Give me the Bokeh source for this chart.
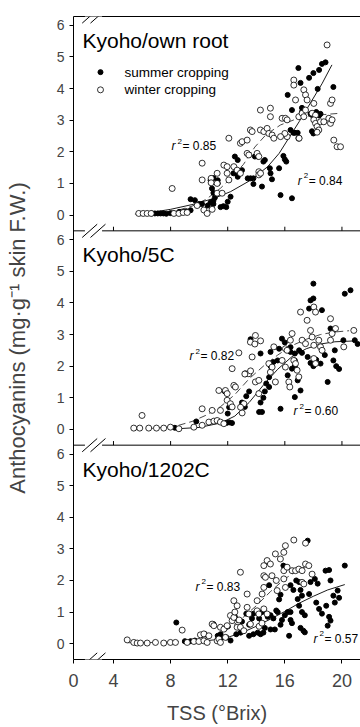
from bokeh.plotting import figure
from bokeh.models import Range1d, FixedTicker, Span, Arrow, LinearAxis
from bokeh.core.properties import value
from bokeh.embed import file_html
from bokeh.resources import INLINE

FONT = "Liberation Sans"

# ---------------- data ----------------
panel_names = ["Kyoho/own root", "Kyoho/5C", "Kyoho/1202C"]
series_names = ["summer cropping", "winter cropping"]

x_ticks = [1.2, 4, 8, 12, 16, 20]          # 1.2 = position of the broken-axis "0"
x_tick_labels = ["0", "4", "8", "12", "16", "20"]
y_ticks = [0, 1, 2, 3, 4, 5, 6]

# Kyoho / own root
own_summer_x = [6.7, 6.9, 7.1, 7.3, 7.5, 7.7, 8.0, 8.6, 8.9, 9.1, 9.4, 9.4, 9.7, 10.0, 10.2, 10.6, 10.8, 11.0,
                10.8, 11.0, 10.9, 11.0, 11.1, 11.0, 11.3, 11.3, 11.5, 11.7, 11.9, 12.0, 12.2, 12.4, 12.7, 12.5,
                12.7, 13.0, 12.7, 13.4, 13.6, 13.8, 13.8, 14.4, 14.1, 14.5, 14.95, 15.0, 15.1, 15.6, 15.9, 16.0,
                16.1, 15.7, 16.5, 16.7, 16.9, 18.0, 16.4, 16.6, 16.2, 16.5, 17.2, 17.2, 17.8, 18.0, 18.2, 18.4,
                18.5, 17.9, 16.95, 17.1, 17.7, 18.0, 18.4, 18.6, 18.85, 18.3, 19.4, 13.9, 14.6]
own_summer_y = [0.05, 0.05, 0.05, 0.05, 0.05, 0.04, 0.06, 0.10, 0.10, 0.12, 0.15, 0.50, 0.47, 0.35, 0.35, 0.30,
                0.40, 0.35, 1.10, 1.17, 0.84, 0.70, 0.55, 0.45, 1.00, 1.10, 0.25, 0.28, 0.25, 0.42, 0.58, 1.32,
                1.27, 1.85, 1.74, 1.42, 1.21, 1.16, 1.16, 1.16, 0.98, 0.90, 1.85, 1.69, 1.48, 1.32, 1.13, 1.48,
                1.87, 1.76, 1.69, 0.63, 0.53, 2.60, 2.60, 2.58, 2.69, 2.60, 3.80, 3.32, 3.39, 3.26, 3.20, 3.10,
                3.26, 3.15, 3.20, 2.65, 4.65, 4.18, 4.34, 4.49, 4.59, 4.78, 4.83, 3.99, 4.05, 1.85, 1.74]
own_winter_x = [5.77, 6.08, 6.36, 6.64, 8.11, 8.23, 8.58, 8.88, 9.16, 9.86, 10.21, 10.21, 10.33, 10.56, 10.84,
                10.91, 10.84, 11.26, 11.26, 11.26, 11.61, 11.73, 11.96, 11.96, 12.08, 12.08, 12.43, 12.66,
                12.89, 12.89, 13.01, 13.36, 13.59, 13.71, 13.36, 13.48, 14.18, 14.18, 14.06, 14.18, 14.29,
                14.99, 14.99, 14.29, 14.53, 14.76, 14.88, 15.11, 15.23, 15.81, 16.04, 16.16, 16.16, 16.63,
                16.63, 16.75, 16.98, 16.98, 17.21, 17.33, 17.45, 17.33, 17.45, 17.56, 18.03, 17.91, 18.15,
                18.03, 18.15, 18.26, 18.38, 18.26, 18.50, 18.73, 19.08, 19.20, 18.96, 19.20, 19.31, 19.31,
                19.43, 19.66, 19.90, 16.0, 15.7, 17.0, 14.3]
own_winter_y = [0.05, 0.05, 0.05, 0.05, 0.84, 0.05, 0.05, 0.08, 0.08, 0.30, 1.64, 1.11, 0.16, 0.05, 1.16,
                0.18, 1.02, 1.32, 1.00, 0.69, 0.69, 1.58, 1.53, 1.32, 1.11, 2.43, 1.53, 1.42, 1.32, 2.27,
                2.32, 2.37, 2.69, 2.64, 1.95, 1.90, 1.37, 1.27, 1.95, 1.85, 3.32, 3.38, 3.11, 2.69, 2.64,
                2.74, 2.58, 2.53, 2.43, 3.06, 3.06, 3.01, 2.48, 4.27, 4.11, 3.64, 3.11, 2.43, 3.22, 3.11,
                3.32, 3.96, 3.80, 3.64, 3.53, 3.22, 3.16, 3.01, 2.90, 2.80, 2.69, 2.62, 2.95, 2.95, 3.06,
                2.90, 5.38, 3.53, 3.64, 3.01, 2.37, 2.16, 2.16, 2.58, 2.48, 2.43, 1.32]
own_summer_fit_x = [6.6, 8.0, 9.5, 11.0, 12.2, 13.6, 14.8, 15.6, 16.3, 17.0, 17.8, 18.6, 19.3]
own_summer_fit_y = [0.08, 0.18, 0.33, 0.52, 0.74, 1.10, 1.53, 1.95, 2.45, 2.95, 3.55, 4.15, 4.75]
own_winter_fit_x = [5.5, 7.0, 8.5, 9.5, 10.5, 11.5, 12.3, 13.1, 13.9, 14.7, 15.7, 16.7, 17.7, 18.8, 19.9]
own_winter_fit_y = [0.03, 0.06, 0.15, 0.28, 0.50, 0.85, 1.20, 1.60, 2.15, 2.55, 2.85, 3.02, 3.12, 3.18, 3.22]

# Kyoho / 5C
c5_summer_x = [8.3, 9.8, 11.9, 12.1, 12.3, 12.0, 12.1, 11.8, 13.0, 13.2, 13.1, 13.3, 13.5, 13.6, 14.2, 14.4,
               14.3, 14.5, 14.6, 14.7, 14.9, 14.9, 14.3, 15.0, 15.0, 15.2, 15.5, 15.7, 15.8, 16.0, 16.4, 15.6,
               16.2, 16.5, 16.7, 16.7, 16.4, 16.7, 17.0, 17.2, 17.1, 16.7, 16.9, 17.6, 17.8, 17.7, 18.0, 18.0,
               17.8, 18.6, 18.0, 18.2, 18.5, 18.6, 18.8, 19.0, 19.2, 19.4, 19.4, 19.6, 19.8, 19.5, 20.1, 20.2,
               20.6, 20.9, 21.1]
c5_summer_y = [0.05, 0.25, 0.20, 0.22, 0.20, 0.50, 0.70, 1.20, 0.85, 0.71, 0.81, 1.05, 1.20, 2.85, 0.55, 0.55,
               0.85, 1.00, 1.20, 1.45, 1.65, 1.34, 2.40, 2.45, 2.00, 2.13, 2.18, 0.65, 2.87, 2.75, 2.60, 2.55,
               1.71, 1.92, 2.18, 2.00, 2.45, 2.40, 2.50, 2.42, 1.23, 1.02, 1.55, 2.29, 2.10, 3.82, 4.61, 4.14,
               4.08, 3.77, 2.00, 2.20, 2.08, 2.50, 2.35, 1.50, 3.19, 3.13, 2.18, 2.00, 1.91, 2.50, 2.82, 4.29,
               4.40, 2.82, 2.70]
c5_winter_x = [6.0, 5.42, 5.84, 6.47, 7.01, 7.52, 7.99, 8.58, 9.63, 10.21, 10.21, 10.68, 11.03, 11.26, 11.49,
               11.73, 10.91, 11.49, 11.38, 11.84, 11.96, 11.96, 12.19, 12.31, 12.31, 12.43, 12.54, 12.78, 13.01,
               13.13, 13.24, 13.48, 13.59, 13.71, 13.94, 13.94, 14.18, 14.18, 14.88, 14.99, 15.11, 15.34, 15.23,
               15.81, 16.04, 16.16, 16.04, 16.28, 16.35, 16.39, 16.51, 16.63, 16.75, 16.86, 16.98, 17.10, 17.21,
               17.45, 17.56, 17.80, 17.91, 18.03, 18.03, 18.15, 18.03, 18.15, 18.38, 18.50, 18.61, 19.20, 19.31,
               19.55, 19.20, 20.83, 20.13, 13.9, 14.3, 12.9, 13.2, 13.6]
c5_winter_y = [0.44, 0.04, 0.04, 0.04, 0.04, 0.04, 0.07, 0.02, 0.07, 0.13, 0.65, 0.23, 0.26, 0.28, 0.23,
               0.18, 0.60, 0.60, 1.23, 1.23, 1.13, 0.92, 0.81, 0.71, 1.92, 1.39, 1.34, 2.42, 0.52, 0.81, 1.76,
               1.76, 2.76, 2.29, 2.97, 1.50, 1.55, 1.13, 2.08, 1.81, 1.97, 1.50, 2.61, 2.18, 2.55, 2.50, 1.97,
               1.50, 1.34, 2.82, 3.03, 2.18, 2.08, 1.87, 1.66, 3.71, 2.82, 2.71, 3.45, 3.13, 2.92, 2.66, 3.87,
               3.71, 2.24, 2.08, 2.82, 2.61, 2.50, 3.50, 3.03, 3.19, 2.82, 3.13, 2.61, 2.70, 2.80, 0.70, 1.75,
               1.85]
c5_summer_fit_x = [8.5, 10.0, 11.5, 12.5, 13.5, 14.5, 15.5, 16.5, 17.5, 18.5, 19.5, 21.0]
c5_summer_fit_y = [0.02, 0.06, 0.20, 0.42, 0.85, 1.40, 1.90, 2.30, 2.55, 2.70, 2.77, 2.80]
c5_winter_fit_x = [5.5, 7.0, 8.5, 9.5, 10.5, 11.5, 12.5, 13.5, 14.5, 15.5, 16.5, 17.5, 18.5, 19.5, 20.5]
c5_winter_fit_y = [0.00, 0.04, 0.12, 0.25, 0.45, 0.72, 1.10, 1.60, 2.00, 2.35, 2.65, 2.85, 3.00, 3.08, 3.12]

# Kyoho / 1202C
c1202_summer_x = [8.4, 9.0, 9.4, 9.7, 10.2, 10.4, 11.0, 11.3, 11.5, 11.6, 11.9, 12.2, 12.0, 12.4, 12.5, 12.6,
                  12.9, 13.1, 13.3, 13.0, 13.5, 13.7, 13.8, 13.5, 13.8, 14.1, 14.3, 14.5, 14.6, 14.2, 14.4,
                  14.8, 15.0, 15.2, 14.9, 15.0, 15.3, 15.4, 15.5, 15.7, 15.8, 15.6, 15.7, 15.9, 16.1, 16.0,
                  16.2, 16.4, 16.3, 16.4, 16.5, 16.4, 16.6, 16.8, 17.0, 17.1, 16.9, 17.2, 17.0, 17.2, 17.4,
                  17.1, 17.3, 17.4, 17.6, 17.7, 17.8, 18.1, 18.3, 18.2, 18.4, 18.6, 18.9, 19.1, 19.0, 19.2,
                  18.85, 19.1, 19.2, 19.4, 19.7, 20.2, 19.5, 19.8]
c1202_summer_y = [0.67, 0.08, 0.08, 0.10, 0.28, 0.30, 0.62, 0.25, 0.30, 0.20, 0.20, 0.10, 0.55, 0.78, 0.85,
                  0.30, 0.35, 0.40, 0.95, 0.70, 0.60, 0.80, 0.95, 0.25, 0.30, 0.35, 0.30, 0.35, 0.50, 0.80,
                  1.00, 0.85, 0.90, 0.80, 1.85, 0.45, 0.45, 1.05, 1.00, 0.60, 0.75, 1.40, 1.55, 2.47, 2.42,
                  0.90, 1.00, 1.00, 0.25, 0.75, 0.65, 1.85, 1.70, 2.00, 1.95, 1.70, 1.41, 1.52, 1.20, 1.00,
                  0.90, 0.50, 0.41, 0.36, 3.26, 1.57, 1.95, 2.05, 1.90, 1.30, 1.10, 0.95, 1.20, 0.85, 0.57,
                  0.73, 2.31, 2.33, 2.00, 1.52, 1.68, 2.47, 1.30, 1.45]
c1202_winter_x = [4.96, 5.42, 5.66, 5.89, 6.36, 6.94, 7.52, 7.99, 8.34, 8.81, 9.16, 9.63, 9.98, 10.33, 10.56,
                  10.09, 10.33, 10.68, 10.91, 11.03, 11.26, 11.38, 11.49, 11.84, 11.49, 11.73, 11.96, 12.19,
                  12.31, 12.43, 12.43, 12.66, 12.89, 12.66, 12.89, 13.13, 13.36, 13.48, 13.36, 13.59, 14.06,
                  14.18, 14.06, 14.41, 14.53, 14.53, 14.64, 14.53, 14.76, 14.99, 14.53, 14.76, 15.34, 15.46,
                  15.69, 15.93, 16.04, 15.93, 15.93, 16.04, 16.16, 16.51, 16.75, 16.98, 17.21, 16.63, 17.45,
                  17.21, 17.33, 17.45, 17.68, 17.91, 14.2, 14.4, 12.5, 12.8, 15.1, 15.4]
c1202_winter_y = [0.12, 0.04, 0.02, 0.02, 0.02, 0.04, 0.02, 0.04, 0.04, 0.43, 0.04, 0.07, 0.07, 0.09, 0.04,
                  0.28, 0.31, 0.25, 0.62, 0.57, 0.09, 0.15, 0.04, 0.20, 0.52, 0.46, 0.57, 0.89, 0.73, 0.83,
                  1.36, 1.20, 2.26, 0.52, 0.52, 0.41, 1.15, 0.94, 1.57, 0.62, 1.04, 0.94, 1.36, 1.57, 1.78,
                  2.15, 2.10, 2.47, 2.63, 2.52, 1.10, 0.94, 2.84, 1.68, 2.68, 2.89, 3.10, 2.31, 2.05, 1.78,
                  2.42, 2.31, 2.31, 2.36, 2.31, 3.28, 3.18, 1.94, 1.89, 2.52, 2.47, 2.20, 0.55, 0.65, 1.00,
                  0.75, 2.15, 2.00]
c1202_summer_fit_x = [8.8, 10.0, 11.0, 12.0, 13.0, 14.0, 15.0, 16.0, 17.0, 18.0, 19.0, 20.2]
c1202_summer_fit_y = [0.03, 0.06, 0.12, 0.20, 0.35, 0.55, 0.78, 1.02, 1.28, 1.50, 1.70, 1.87]
c1202_winter_fit_x = [5.0, 7.0, 9.0, 10.0, 11.0, 12.0, 13.0, 14.0, 15.0, 16.0, 17.0, 17.8]
c1202_winter_fit_y = [0.03, 0.04, 0.07, 0.12, 0.25, 0.45, 0.80, 1.20, 1.65, 2.05, 2.35, 2.50]

# r^2 annotations: (x, y, value) per panel
r2_x = [[8.06, 16.9], [9.32, 16.6], [9.74, 18.0]]
r2_y = [[2.18, 1.08], [2.31, 0.57], [1.80, 0.16]]
r2_values = [["0.85", "0.84"], ["0.82", "0.60"], ["0.83", "0.57"]]

panels = [
    (own_summer_x, own_summer_y, own_winter_x, own_winter_y,
     own_summer_fit_x, own_summer_fit_y, own_winter_fit_x, own_winter_fit_y),
    (c5_summer_x, c5_summer_y, c5_winter_x, c5_winter_y,
     c5_summer_fit_x, c5_summer_fit_y, c5_winter_fit_x, c5_winter_fit_y),
    (c1202_summer_x, c1202_summer_y, c1202_winter_x, c1202_winter_y,
     c1202_summer_fit_x, c1202_summer_fit_y, c1202_winter_fit_x, c1202_winter_fit_y),
]

# ---------------- layout ----------------
H = 6.78       # vertical span of one panel in data units
BASE = -0.5    # bottom of a panel in data units
X_START, X_END = 1.2, 21.3

p = figure(frame_width=287, frame_height=643,
           x_range=Range1d(X_START, X_END), y_range=Range1d(BASE, BASE + 3 * H),
           output_backend="svg", toolbar_location=None,
           min_border_left=73, min_border_right=0, min_border_top=16, min_border_bottom=0)
p.background_fill_color = "white"
p.border_fill_color = "white"
p.outline_line_color = None
p.xgrid.visible = False
p.ygrid.visible = False

range_names = ["own", "c5", "c1202"]
for k, name in enumerate(range_names):
    shift = (2 - k) * H
    p.extra_y_ranges[name] = Range1d(BASE - shift, BASE + 3 * H - shift)

# left axis: 0..6 repeated for each panel
all_y_ticks = []
y_overrides = {}
for k in range(3):
    for t in y_ticks:
        v = round(k * H + t, 2)
        all_y_ticks.append(v)
        y_overrides[v] = str(t)
yax = p.left[0]
yax.ticker = FixedTicker(ticks=all_y_ticks)
yax.major_label_overrides = y_overrides
yax.minor_tick_line_color = None
yax.major_tick_out = 4
yax.major_tick_in = 0
yax.major_label_standoff = 5
yax.major_label_text_font = FONT
yax.major_label_text_font_size = "14px"
yax.axis_label = "Anthocyanins (mg\u00b7g\u207b\u00b9 skin F.W.)"
yax.axis_label_text_font = FONT
yax.axis_label_text_font_size = "22px"
yax.axis_label_text_font_style = "normal"
yax.axis_label_standoff = 24

xax = p.below[0]
xax.ticker = FixedTicker(ticks=x_ticks)
xax.major_label_overrides = {t: l for t, l in zip(x_ticks, x_tick_labels)}
xax.minor_tick_line_color = None
xax.major_tick_out = 4
xax.major_tick_in = 0
xax.major_label_standoff = 10
xax.major_label_text_font = FONT
xax.major_label_text_font_size = "18px"
xax.axis_label = "TSS (\u00b0Brix)"
xax.axis_label_text_font = FONT
xax.axis_label_text_font_size = "20px"
xax.axis_label_text_font_style = "normal"
xax.axis_label_standoff = 12

# top frame line (no right frame edge: the original is cut at the right)
top_axis = LinearAxis(ticker=FixedTicker(ticks=[]), major_tick_out=0, major_tick_in=0,
                      minor_tick_line_color=None, major_label_text_font_size="0px",
                      major_label_standoff=0, axis_line_color="black", axis_line_width=1)
p.add_layout(top_axis, "above")

# panel separators and their inner ticks
boundaries = [BASE + H, BASE + 2 * H]
for b in boundaries:
    p.add_layout(Span(location=b, dimension="width", line_color="black", line_width=1))
    p.segment(x0=x_ticks[1:], y0=[b] * 5, x1=x_ticks[1:], y1=[b + 0.13] * 5,
              line_color="black", line_width=1)

# axis-break marks on every horizontal frame line
for b in [BASE, BASE + H, BASE + 2 * H, BASE + 3 * H]:
    p.add_layout(Arrow(x_start=2.0, y_start=b, x_end=3.2, y_end=b, start=None, end=None,
                       line_color="white", line_width=3))
    for dx in (0.0, 0.58):
        p.add_layout(Arrow(x_start=1.81 + dx, y_start=b - 0.21, x_end=2.86 + dx, y_end=b + 0.21,
                           start=None, end=None, line_color="black", line_width=1))

for k, (name, data) in enumerate(zip(range_names, panels)):
    sx, sy, wx, wy, sfx, sfy, wfx, wfy = data
    p.line(wfx, wfy, line_color="#333333", line_width=0.9, line_dash="7 4", y_range_name=name)
    p.line(sfx, sfy, line_color="black", line_width=0.9, y_range_name=name)
    p.scatter(sx, sy, size=5, marker="circle", fill_color="black", line_color="black",
              y_range_name=name)
    p.scatter(wx, wy, size=6, marker="circle", fill_color="white", line_color="black",
              line_width=0.8, y_range_name=name)
    # panel title
    p.text(x=[1.83], y=[5.52], text=[panel_names[k]], text_font=value(FONT),
           text_font_size="21px", text_baseline="middle", text_align="left",
           y_range_name=name)
    # r^2 labels
    p.text(x=r2_x[k], y=r2_y[k], text=["r", "r"], text_font=value(FONT), text_font_size="12px",
           text_font_style="italic", text_baseline="middle", text_align="left", y_range_name=name)
    p.text(x=r2_x[k], y=r2_y[k], text=["2", "2"], text_font=value(FONT), text_font_size="8px",
           text_baseline="middle", text_align="left", x_offset=6, y_offset=-5, y_range_name=name)
    p.text(x=r2_x[k], y=r2_y[k], text=["= " + v for v in r2_values[k]], text_font=value(FONT),
           text_font_size="12px", text_baseline="middle", text_align="left", x_offset=11,
           y_range_name=name)

# legend (panel 1)
p.scatter([3.09], [4.52], size=5, marker="circle", fill_color="black", line_color="black",
          y_range_name="own")
p.scatter([3.09], [3.96], size=6, marker="circle", fill_color="white", line_color="black",
          line_width=0.8, y_range_name="own")
p.text(x=[4.77, 4.77], y=[4.52, 3.96], text=series_names, text_font=value(FONT),
       text_font_size="13.5px", text_baseline="middle", text_align="left", y_range_name="own")

open("out.html", "w").write(file_html(p, INLINE))
